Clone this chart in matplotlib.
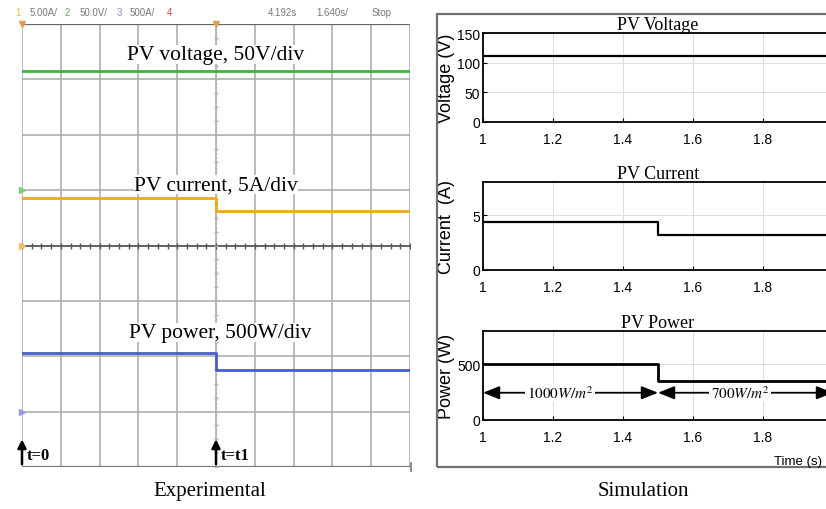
import matplotlib.pyplot as plt
import numpy as np

W, H = 826, 510

# ---- experimental (scope) data ----
exp_step_div = [0, 5, 10]            # scope time in divisions, step at t1
exp_voltage = 108                     # V
exp_current = [4.25, 3.15]            # A before / after t1
exp_power = [530, 380]                # W before / after t1
volt_scale, curr_scale, pow_scale = 50, 5, 500   # per division
volt_ref, curr_ref, pow_ref = 5, 4, 1             # channel ground (div)

# ---- simulation data ----
sim_t = [1.0, 1.5, 2.0]
sim_voltage = 112
sim_current = [4.4, 3.15]
sim_power = [500, 350]
sim_xticks = [1, 1.2, 1.4, 1.6, 1.8]
sim_xticklabels = ['1', '1.2', '1.4', '1.6', '1.8']

plt.rcParams['font.family'] = ['Liberation Sans Narrow', 'Liberation Sans', 'DejaVu Sans']
plt.rcParams['mathtext.fontset'] = 'stix'
serif = ['Liberation Serif', 'DejaVu Serif']


def box(x0, y0, x1, y1):
    return [x0 / W, 1 - y1 / H, (x1 - x0) / W, (y1 - y0) / H]


fig = plt.figure(figsize=(W / 100, H / 100), dpi=100)
fig.patch.set_facecolor('white')

# ================= Experimental =================
ax = fig.add_axes(box(22, 25, 410, 468))
ax.set_xlim(0, 10)
ax.set_ylim(0, 8)
for s in ax.spines.values():
    s.set_visible(False)
ax.set_xticks([])
ax.set_yticks([])
for i in range(11):
    ax.axvline(i, color='#a8a8a8', lw=1.1, zorder=1)
for j in range(9):
    ax.axhline(j, color='#a8a8a8', lw=1.1, zorder=1)
ax.axhline(8, color='#666666', lw=1.6, zorder=2)
ax.axhline(0, color='#777777', lw=1.6, zorder=2)
ax.axhline(4, color='#555555', lw=1.2, zorder=2)
ax.axvline(5, color='#b0b0b0', lw=1.0, ls=':', zorder=2)
minor = np.arange(0, 10.01, 0.25)
ax.plot(minor, np.full_like(minor, 4), ls='none', marker='|', ms=5, color='#555555', zorder=2)
vminor = np.arange(0, 8.01, 0.25)
ax.plot(np.full_like(vminor, 5), vminor, ls='none', marker='_', ms=3, color='#b0b0b0', zorder=2)

t_step = [exp_step_div[0], exp_step_div[1], exp_step_div[1], exp_step_div[2]]
v = volt_ref + exp_voltage / volt_scale
ax.plot([exp_step_div[0], exp_step_div[2]], [v, v], color='#3db53d', lw=2.0, zorder=3)
c = [curr_ref + x / curr_scale for x in exp_current]
ax.plot(t_step, [c[0], c[0], c[1], c[1]], color='#f0a818', lw=2.0, zorder=3)
p = [pow_ref + x / pow_scale for x in exp_power]
ax.plot(t_step, [p[0], p[0], p[1], p[1]], color='#4a5ec8', lw=2.0, zorder=3)

# channel markers
ax.plot([0], [volt_ref], marker='>', ms=5, color='#7ccf7c', clip_on=False, zorder=4)
ax.plot([0], [curr_ref], marker='>', ms=5, color='#f5c060', clip_on=False, zorder=4)
ax.plot([0], [pow_ref], marker='>', ms=5, color='#9a9ae0', clip_on=False, zorder=4)
ax.plot([0, 5], [8, 8], ls='none', marker='v', ms=5, color='#e0a050', clip_on=False, zorder=4)

ax.text(5, 7.45, 'PV voltage, 50V/div', ha='center', va='center', fontsize=15.5, family=serif,
        bbox=dict(facecolor='white', edgecolor='none', pad=0))
ax.text(5, 5.1, 'PV current, 5A/div', ha='center', va='center', fontsize=15.5, family=serif,
        bbox=dict(facecolor='white', edgecolor='none', pad=0))
ax.text(5.1, 2.42, 'PV power, 500W/div', ha='center', va='center', fontsize=15.5, family=serif,
        bbox=dict(facecolor='white', edgecolor='none', pad=0))

for xd, lab in [(0, 't=0'), (5, 't=t1')]:
    ax.annotate('', xy=(xd, 0.55), xytext=(xd, 0.0),
                arrowprops=dict(arrowstyle='-|>,head_length=0.5,head_width=0.25', color='black', lw=1.8))
    ax.text(xd + 0.12, 0.22, lab, fontsize=12, family=serif, fontweight='bold', va='center')

# scope header
hdr = [(15, '1', '#d8c040'), (30, '5.00A/', '#777777'), (65, '2', '#60b060'),
       (80, '50.0V/', '#777777'), (117, '3', '#9090d0'), (130, '500A/', '#777777'),
       (167, '4', '#d04040'), (268, '4.192s', '#777777'), (316, '1.640s/', '#777777'),
       (372, 'Stop', '#777777')]
for x, s, col in hdr:
    fig.text(x / W, 1 - 13 / H, s, color=col, fontsize=7, va='center')
fig.add_artist(plt.Line2D([411 / W, 411 / W], [1 - 472 / H, 1 - 464 / H], color='#777777', lw=1.2))

# ================= Simulation =================
fig.add_artist(plt.Rectangle((437 / W, 1 - 468 / H), 400 / W, 453 / H, fill=False,
                             edgecolor='#707070', lw=1.6))

panels = [
    (34, 123, 'PV Voltage', 'Voltage (V)', (0, 150), [0, 50, 100, 150]),
    (183, 271, 'PV Current', 'Current  (A)', (0, 8), [0, 5]),
    (332, 421, 'PV Power', 'Power (W)', (0, 800), [0, 500]),
]
axes = []
for top, bot, title, ylab, ylim, yt in panels:
    a = fig.add_axes(box(483, top, 833, bot))
    a.set_xlim(1, 2)
    a.set_ylim(*ylim)
    a.set_xticks(sim_xticks + [2.0])
    a.set_xticklabels(sim_xticklabels + [''])
    a.set_yticks(yt)
    a.grid(True, color='#dcdcdc', lw=0.7)
    a.tick_params(direction='in', length=3, labelsize=10, pad=7, width=0.8)
    a.tick_params(axis='y', pad=2)
    for s in a.spines.values():
        s.set_linewidth(1.3)
    a.set_title(title, fontsize=13, family=serif, pad=2)
    a.set_ylabel(ylab, fontsize=13)
    a.yaxis.set_label_coords(-0.08, 0.5)
    axes.append(a)

a1, a2, a3 = axes
a1.plot([sim_t[0], sim_t[2]], [sim_voltage, sim_voltage], color='black', lw=1.6)
ts = [sim_t[0], sim_t[1], sim_t[1], sim_t[2]]
a2.plot(ts, [sim_current[0], sim_current[0], sim_current[1], sim_current[1]], color='black', lw=1.6)
a3.plot(ts, [sim_power[0], sim_power[0], sim_power[1], sim_power[1]], color='black', lw=2.0)

arrow_y = 245
ap = dict(arrowstyle='<|-|>,head_length=1.0,head_width=0.4', color='black', lw=1.3,
          shrinkA=0, shrinkB=0)
a3.annotate('', xy=(sim_t[0], arrow_y), xytext=(sim_t[1], arrow_y), arrowprops=ap)
a3.annotate('', xy=(sim_t[1], arrow_y), xytext=(sim_t[2], arrow_y), arrowprops=ap, annotation_clip=False)
a3.text(1.22, arrow_y, r'$1000W/m^2$', ha='center', va='center', fontsize=11,
        bbox=dict(facecolor='white', edgecolor='none', pad=1))
a3.text(1.735, arrow_y, r'$700W/m^2$', ha='center', va='center', fontsize=11,
        bbox=dict(facecolor='white', edgecolor='none', pad=1))
fig.text(822 / W, 1 - 462 / H, 'Time (s)', fontsize=9.5, va='center', ha='right')

fig.text(210 / W, 1 - 492 / H, 'Experimental', ha='center', va='center', fontsize=15, family=serif)
fig.text(643 / W, 1 - 492 / H, 'Simulation', ha='center', va='center', fontsize=15, family=serif)

fig.savefig('out.png', dpi=100, facecolor='white')
